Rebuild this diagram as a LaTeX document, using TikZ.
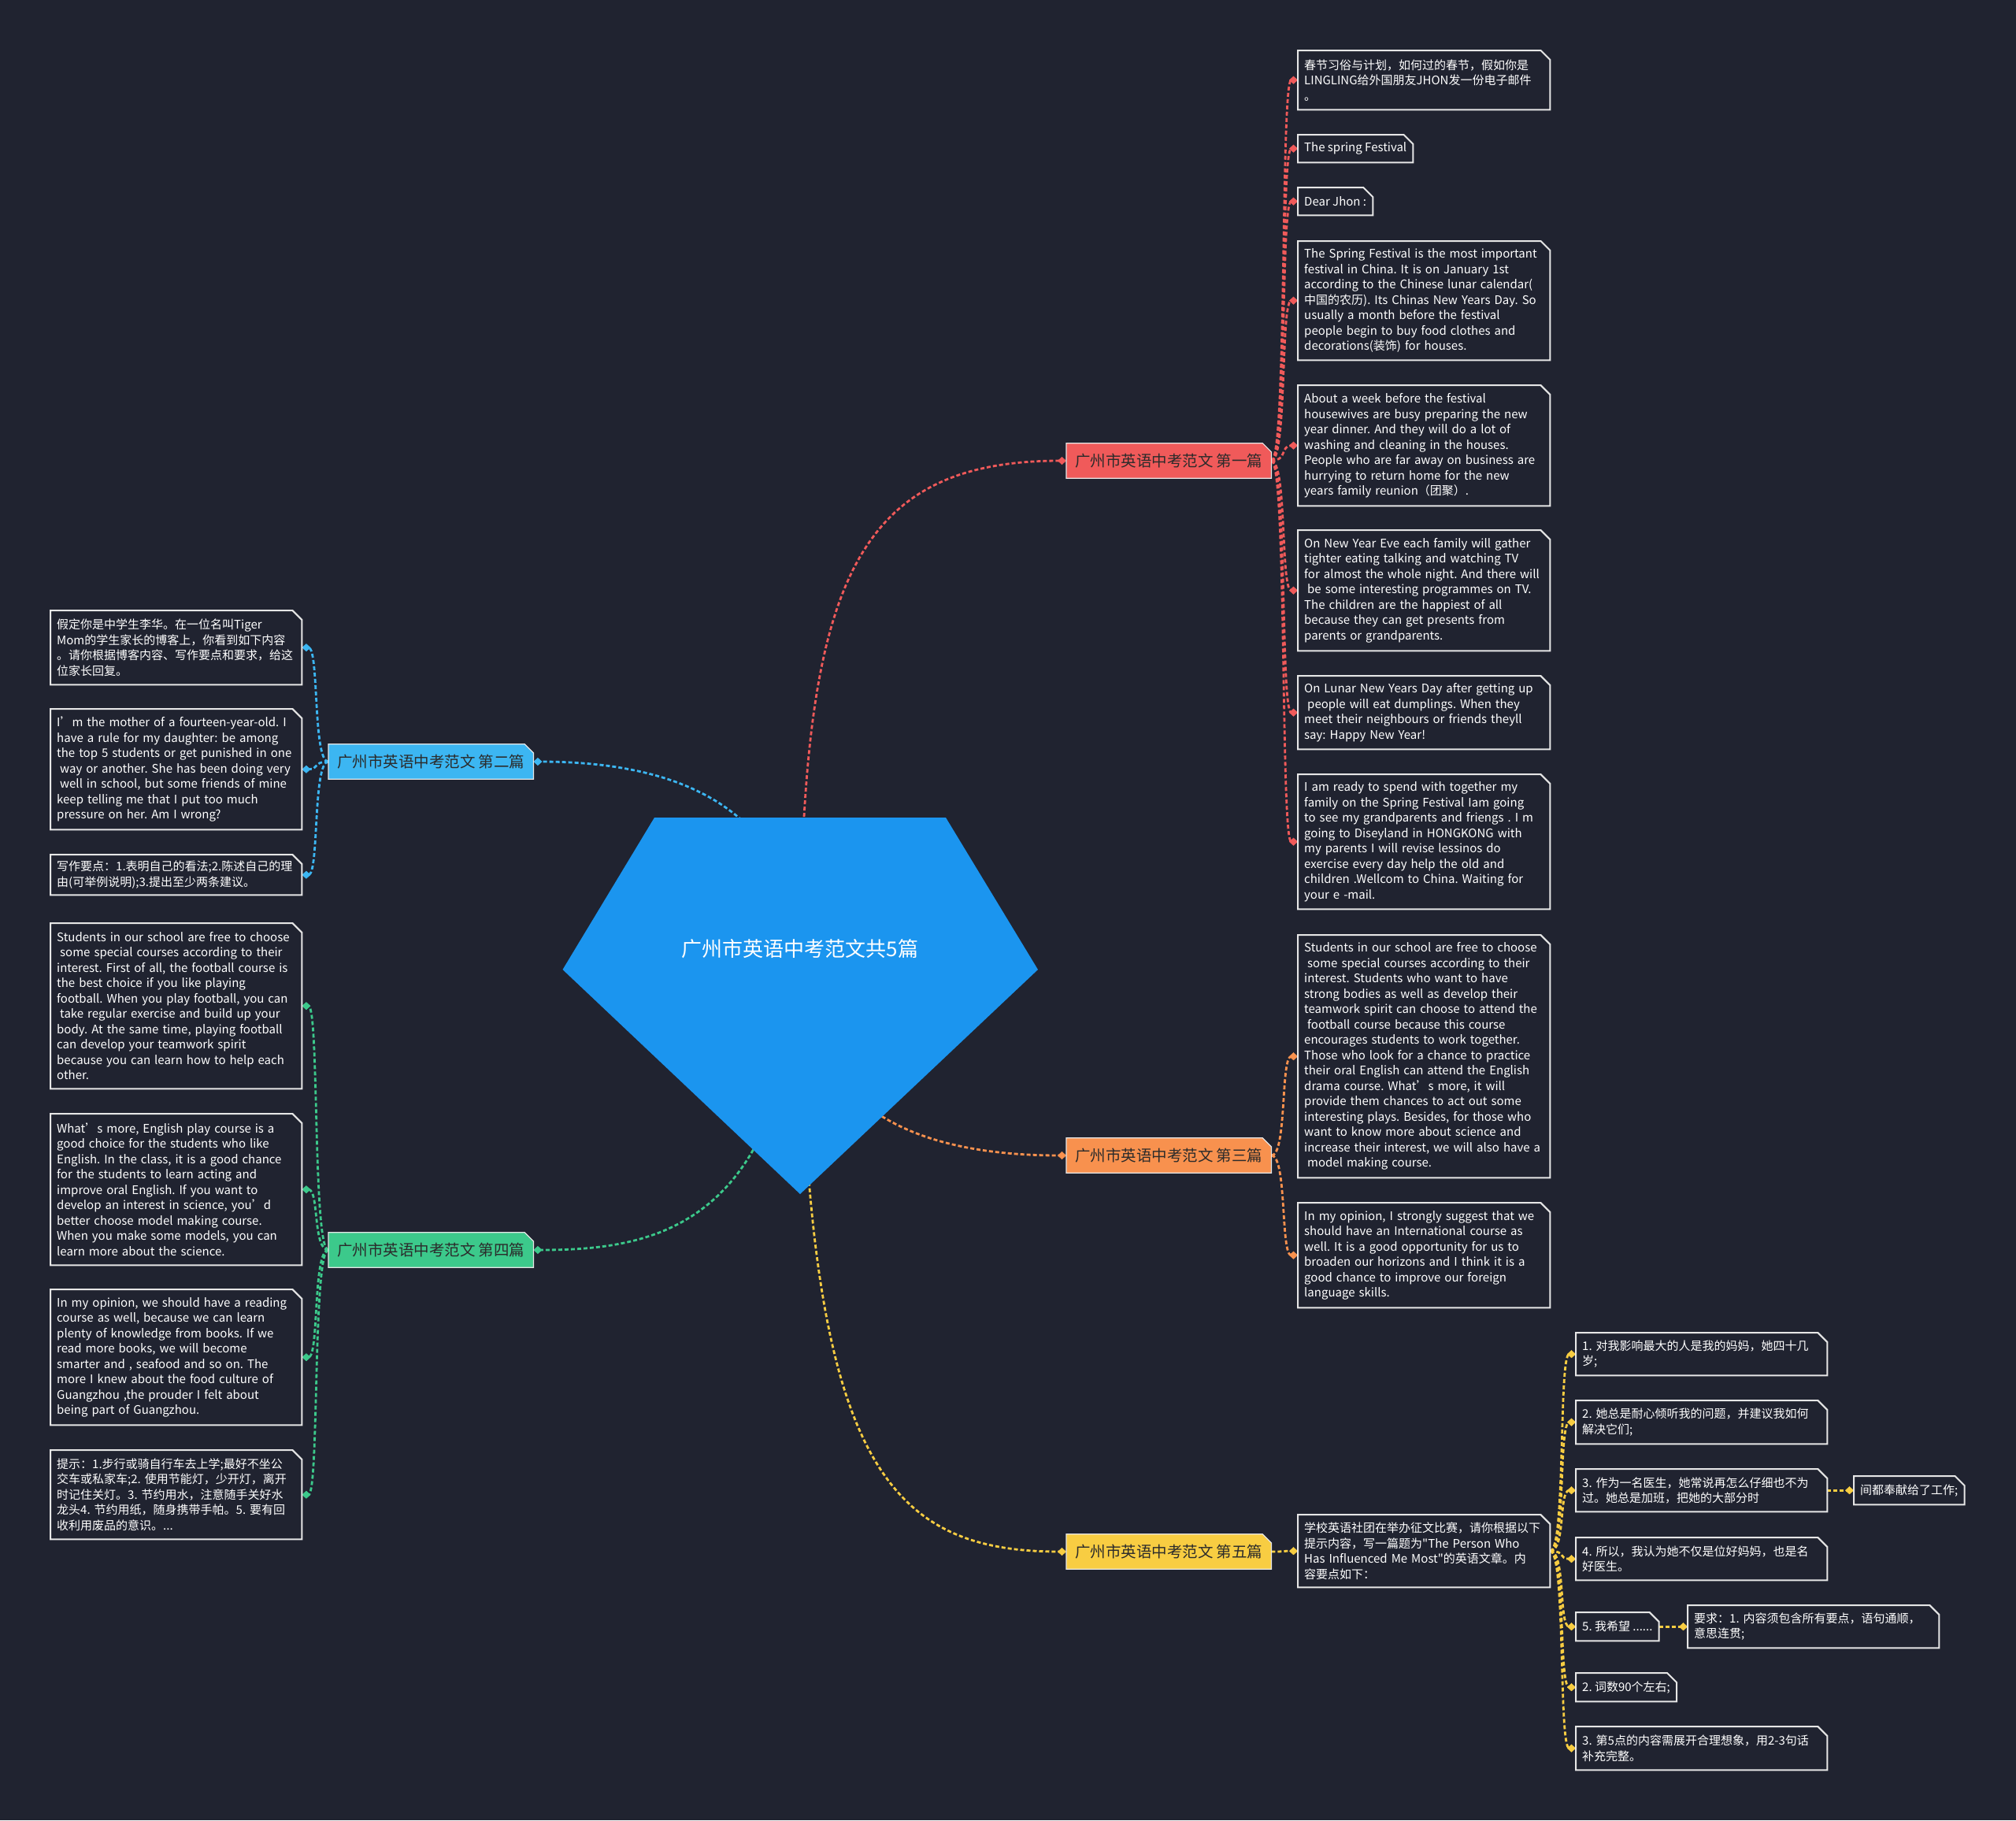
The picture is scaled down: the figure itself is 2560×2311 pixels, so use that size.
\documentclass[tikz,border=0pt]{standalone}
\usepackage{fontspec}
\setmainfont{Noto Sans CJK SC}[Ligatures=TeXOff]
\frenchspacing
\usetikzlibrary{arrows.meta,backgrounds}
\definecolor{bgc}{HTML}{202330}
\definecolor{cred}{HTML}{F05A5A}
\definecolor{cblue}{HTML}{3CB6F2}
\definecolor{cgreen}{HTML}{3CC98B}
\definecolor{corange}{HTML}{F8914E}
\definecolor{cyellow}{HTML}{F8CD42}
\definecolor{croot}{HTML}{1B95EF}
\definecolor{leafline}{HTML}{E6E6E6}
\definecolor{lvtext}{HTML}{2B2B2B}
\tikzset{
  leaf/.style={anchor=north west, inner xsep=8pt, inner ysep=0pt, align=left, text=white,
    font=\fontsize{15pt}{19.5pt}\selectfont\frenchspacing},
  lv/.style={anchor=west, inner sep=0pt, minimum width=260pt, minimum height=44pt, text=lvtext,
    font=\fontsize{19.5pt}{22pt}\selectfont},
  conn/.style={line width=2.8pt, dash pattern=on 5pt off 3pt,
    -{Turned Square[length=11pt,width=10pt,line width=0.5pt]}},
  boxst/.style={draw=leafline, fill=bgc, line width=2pt},
}
\begin{document}
\begin{tikzpicture}[x=1pt,y=-1pt]
\begin{scope}[on background layer]
\fill[bgc] (0,0) rectangle (2560,2311);
\end{scope}
\useasboundingbox (0,0) rectangle (2560,2311);

% root
\node[text=white, font=\fontsize{26pt}{30pt}\selectfont, inner sep=0pt] (root) at (1016,1205) {广州市英语中考范文共5篇};
\coordinate (p1) at (831,1038);
\coordinate (p2) at (1201,1038);
\coordinate (p3) at (1318,1231);
\coordinate (p4) at (1016,1516);
\coordinate (p5) at (714.5,1231);

% level 1
\node[lv] (L1) at (1354,585) {广州市英语中考范文 第一篇};
\node[lv] (L2) at (417,967) {广州市英语中考范文 第二篇};
\node[lv] (L3) at (1354,1467) {广州市英语中考范文 第三篇};
\node[lv] (L4) at (417,1587) {广州市英语中考范文 第四篇};
\node[lv] (L5) at (1354,1970) {广州市英语中考范文 第五篇};

% branch 1
\node[leaf, text width=304pt, minimum height=75pt] (a1) at (1648,64) {春节习俗与计划，如何过的春节，假如你是\\LINGLING给外国朋友JHON发一份电子邮件\\。};
\node[leaf, minimum height=35pt] (a2) at (1648,171) {The spring Festival};
\node[leaf, minimum height=35pt] (a3) at (1648,238) {Dear Jhon :};
\node[leaf, text width=304pt, minimum height=151pt] (a4) at (1648,306) {The Spring Festival is the most important\\festival in China. It is on January 1st\\according to the Chinese lunar calendar(\\中国的农历). Its Chinas New Years Day. So\\usually a month before the festival\\people begin to buy food clothes and\\decorations(装饰) for houses.};
\node[leaf, text width=304pt, minimum height=153pt] (a5) at (1648,489) {About a week before the festival\\housewives are busy preparing the new\\year dinner. And they will do a lot of\\washing and cleaning in the houses.\\People who are far away on business are\\hurrying to return home for the new\\years family reunion（团聚）.};
\node[leaf, text width=304pt, minimum height=153pt] (a6) at (1648,673) {On New Year Eve each family will gather\\tighter eating talking and watching TV\\for almost the whole night. And there will\\\hspace*{4pt}be some interesting programmes on TV.\\The children are the happiest of all\\because they can get presents from\\parents or grandparents.};
\node[leaf, text width=304pt, minimum height=93pt] (a7) at (1648,858) {On Lunar New Years Day after getting up\\\hspace*{4pt}people will eat dumplings. When they\\meet their neighbours or friends theyll\\say: Happy New Year!};
\node[leaf, text width=304pt, minimum height=171pt] (a8) at (1648,983) {I am ready to spend with together my\\family on the Spring Festival Iam going\\to see my grandparents and friengs . I m\\going to Diseyland in HONGKONG with\\my parents I will revise lessinos do\\exercise every day help the old and\\children .Wellcom to China. Waiting for\\your e -mail.};

% branch 3
\node[leaf, text width=304pt, minimum height=308pt] (c1) at (1648,1187) {Students in our school are free to choose\\\hspace*{4pt}some special courses according to their\\interest. Students who want to have\\strong bodies as well as develop their\\teamwork spirit can choose to attend the\\\hspace*{4pt}football course because this course\\encourages students to work together.\\Those who look for a chance to practice\\their oral English can attend the English\\drama course. What’s more, it will\\provide them chances to act out some\\interesting plays. Besides, for those who\\want to know more about science and\\increase their interest, we will also have a\\\hspace*{4pt}model making course.};
\node[leaf, text width=304pt, minimum height=133pt] (c2) at (1648,1527) {In my opinion, I strongly suggest that we\\should have an International course as\\well. It is a good opportunity for us to\\broaden our horizons and I think it is a\\good chance to improve our foreign\\language skills.};

% branch 2
\node[leaf, text width=303pt, minimum height=94pt] (b1) at (64,775) {假定你是中学生李华。在一位名叫Tiger\\Mom的学生家长的博客上，你看到如下内容\\。请你根据博客内容、写作要点和要求，给这\\位家长回复。};
\node[leaf, text width=303pt, minimum height=153pt] (b2) at (64,900) {I’m the mother of a fourteen-year-old. I\\have a rule for my daughter: be among\\the top 5 students or get punished in one\\\hspace*{4pt}way or another. She has been doing very\\\hspace*{4pt}well in school, but some friends of mine\\keep telling me that I put too much\\pressure on her. Am I wrong?};
\node[leaf, text width=303pt, minimum height=51pt] (b3) at (64,1085) {写作要点：1.表明自己的看法;2.陈述自己的理\\由(可举例说明);3.提出至少两条建议。};

% branch 4
\node[leaf, text width=303pt, minimum height=210pt] (d1) at (64,1172) {Students in our school are free to choose\\\hspace*{4pt}some special courses according to their\\interest. First of all, the football course is\\the best choice if you like playing\\football. When you play football, you can\\\hspace*{4pt}take regular exercise and build up your\\body. At the same time, playing football\\can develop your teamwork spirit\\because you can learn how to help each\\other.};
\node[leaf, text width=303pt, minimum height=192pt] (d2) at (64,1414) {What’s more, English play course is a\\good choice for the students who like\\English. In the class, it is a good chance\\for the students to learn acting and\\improve oral English. If you want to\\develop an interest in science, you’d\\better choose model making course.\\When you make some models, you can\\learn more about the science.};
\node[leaf, text width=303pt, minimum height=172pt] (d3) at (64,1637) {In my opinion, we should have a reading\\course as well, because we can learn\\plenty of knowledge from books. If we\\read more books, we will become\\smarter and , seafood and so on. The\\more I knew about the food culture of\\Guangzhou ,the prouder I felt about\\being part of Guangzhou.};
\node[leaf, text width=303pt, minimum height=113pt] (d4) at (64,1841) {提示：1.步行或骑自行车去上学;最好不坐公\\交车或私家车;2. 使用节能灯，少开灯，离开\\时记住关灯。3. 节约用水，注意随手关好水\\龙头4. 节约用纸，随身携带手帕。5. 要有回\\收利用废品的意识。...};

% branch 5
\node[leaf, text width=304pt, minimum height=92pt] (e1) at (1648,1923) {学校英语社团在举办征文比赛，请你根据以下\\提示内容，写一篇题为"The Person Who\\Has Influenced Me Most"的英语文章。内\\容要点如下：};
\node[leaf, text width=303pt, minimum height=54pt] (y1) at (2001,1692) {1. 对我影响最大的人是我的妈妈，她四十几\\岁;};
\node[leaf, text width=303pt, minimum height=55pt] (y2) at (2001,1778) {2. 她总是耐心倾听我的问题，并建议我如何\\解决它们;};
\node[leaf, text width=303pt, minimum height=54pt] (y3) at (2001,1865) {3. 作为一名医生，她常说再怎么仔细也不为\\过。她总是加班，把她的大部分时};
\node[leaf, minimum height=36pt] (y3b) at (2354,1874) {间都奉献给了工作;};
\node[leaf, text width=303pt, minimum height=54pt] (y4) at (2001,1952) {4. 所以，我认为她不仅是位好妈妈，也是名\\好医生。};
\node[leaf, minimum height=36pt] (y5) at (2001,2047) {5. 我希望 ......};
\node[leaf, text width=303pt, minimum height=54pt] (y5b) at (2143,2038) {要求：1. 内容须包含所有要点，语句通顺，\\意思连贯;};
\node[leaf, minimum height=36pt] (y6) at (2001,2124) {2. 词数90个左右;};
\node[leaf, text width=303pt, minimum height=55pt] (y7) at (2001,2192) {3. 第5点的内容需展开合理想象，用2-3句话\\补充完整。};

\begin{scope}[on background layer]
% root connectors
\draw[conn, cred] (root.center) .. controls (1020,750) and (1080,585) .. (L1.west);
\draw[conn, cblue] (root.center) .. controls (1000,1000) and (820,967) .. (L2.east);
\draw[conn, corange] (root.center) .. controls (1016,1400) and (1150,1467) .. (L3.west);
\draw[conn, cgreen] (root.center) .. controls (1000,1560) and (830,1587) .. (L4.east);
\draw[conn, cyellow] (root.center) .. controls (1020,1850) and (1120,1970) .. (L5.west);
% pentagon
\fill[croot] (p1) -- (p2) -- (p3) -- (p4) -- (p5) -- cycle;
% branch connectors
\foreach \n in {a1,a2,a3,a4,a5,a6,a7,a8}
  \draw[conn, cred] (L1.east) .. controls +(20,0) and +(-22,0) .. (\n.west);
\foreach \n in {c1,c2}
  \draw[conn, corange] (L3.east) .. controls +(20,0) and +(-22,0) .. (\n.west);
\draw[conn, cyellow] (L5.east) .. controls +(20,0) and +(-22,0) .. (e1.west);
\foreach \n in {y1,y2,y3,y4,y5,y6,y7}
  \draw[conn, cyellow] (e1.east) .. controls +(20,0) and +(-22,0) .. (\n.west);
\draw[conn, cyellow] (y3.east) -- (y3b.west);
\draw[conn, cyellow] (y5.east) -- (y5b.west);
\foreach \n in {b1,b2,b3}
  \draw[conn, cblue] (L2.west) .. controls +(-20,0) and +(22,0) .. (\n.east);
\foreach \n in {d1,d2,d3,d4}
  \draw[conn, cgreen] (L4.west) .. controls +(-20,0) and +(22,0) .. (\n.east);
% leaf boxes
\foreach \n in {a1,a2,a3,a4,a5,a6,a7,a8,c1,c2,b1,b2,b3,d1,d2,d3,d4,e1,y1,y2,y3,y3b,y4,y5,y5b,y6,y7}
  \draw[boxst] (\n.south west) -- (\n.north west) -- ([xshift=-12pt]\n.north east)
     -- ([yshift=-12pt]\n.north east) -- (\n.south east) -- cycle;
% level 1 boxes
\foreach \n/\c in {L1/cred,L2/cblue,L3/corange,L4/cgreen,L5/cyellow}
  \draw[fill=\c, draw=white!80!gray, line width=1.2pt] (\n.south west) -- (\n.north west)
     -- ([xshift=-11pt]\n.north east) -- ([yshift=-11pt]\n.north east) -- (\n.south east) -- cycle;
\end{scope}
\end{tikzpicture}
\end{document}
